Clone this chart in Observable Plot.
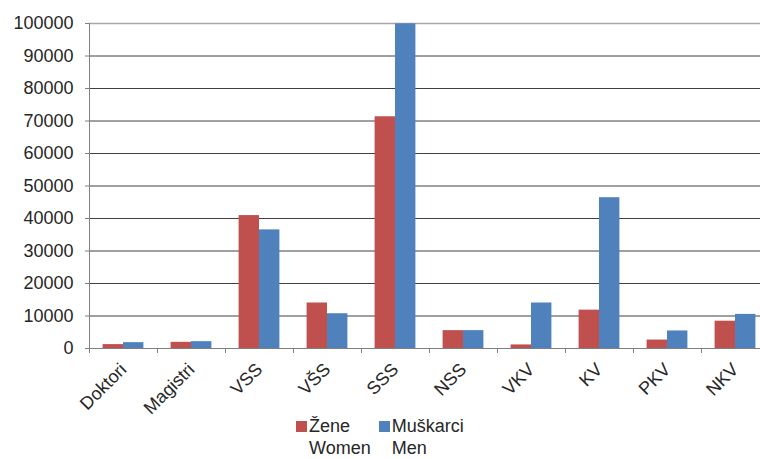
<!DOCTYPE html>
<html>
<head>
<meta charset="utf-8">
<script src="https://cdn.jsdelivr.net/npm/d3@7"></script>
<script src="https://cdn.jsdelivr.net/npm/@observablehq/plot@0.6"></script>
<style>
  html, body { margin: 0; padding: 0; background: #fff; overflow: hidden; }
  #chart svg { display: block; overflow: hidden; }
  .legend { position: relative; display: flex; margin-left: 296px; margin-top: -7px; font-family: "Liberation Sans", Arial, sans-serif; font-size: 18px; color: #262626; line-height: 22px; }
  .item { display: flex; align-items: flex-start; }
  .sw { width: 11px; height: 11px; margin-top: 6px; margin-right: 2px; }
  .item + .item { margin-left: 8px; }
</style>
</head>
<body>
<div id="chart"></div>
<div class="legend" id="legend"></div>
<script>
const categories = ["Doktori", "Magistri", "VSS", "VŠS", "SSS", "NSS", "VKV", "KV", "PKV", "NKV"];
const women = [1200, 1900, 40900, 14000, 71300, 5500, 1100, 11800, 2600, 8400];
const men = [1800, 2100, 36500, 10700, 99900, 5500, 14000, 46400, 5400, 10500];
const seriesNames = ["Žene", "Muškarci"];
const seriesNamesEn = ["Women", "Men"];
const seriesColors = ["#C0504D", "#4F81BD"];
const yTicks = [0, 10000, 20000, 30000, 40000, 50000, 60000, 70000, 80000, 90000, 100000];

const womenData = categories.map((c, i) => ({cat: c, value: women[i]}));
const menData = categories.map((c, i) => ({cat: c, value: men[i]}));

const chart = Plot.plot({
  width: 760,
  height: 422,
  marginLeft: 89,
  marginRight: -9,
  marginTop: 23,
  marginBottom: 74,
  style: {fontFamily: "'Liberation Sans', Arial, sans-serif", fontSize: "18px", color: "#262626", background: "#fff"},
  x: {domain: categories, padding: 0, label: null},
  y: {domain: [0, 100000], label: null},
  marks: [
    Plot.ruleY(yTicks.filter(d => d > 0 && d < 100000), {stroke: "#404040", strokeWidth: 1}),
    Plot.ruleY([100000], {stroke: "#a6a6a6", strokeWidth: 1.5}),
    Plot.barY(womenData, {x: "cat", y: "value", fill: seriesColors[0], insetLeft: 13.6, insetRight: 34}),
    Plot.barY(menData, {x: "cat", y: "value", fill: seriesColors[1], insetLeft: 34, insetRight: 13.6}),
    Plot.ruleY([0], {stroke: "#7f7f7f"}),
    Plot.ruleX([categories[0]], {dx: -34, stroke: "#7f7f7f"}),
    Plot.axisY({ticks: yTicks, tickSize: 4, tickPadding: 12, stroke: "#7f7f7f", tickFormat: d => String(d), fill: "#262626"}),
    Plot.axisX({tickSize: 5, dx: -34, stroke: "#7f7f7f", tickFormat: () => ""}),
    Plot.axisX({tickSize: 0, tickRotate: -45, tickPadding: 18, dx: 0, fill: "#262626"})
  ]
});
document.getElementById("chart").appendChild(chart);

const legend = document.getElementById("legend");
seriesNames.forEach((name, i) => {
  const item = document.createElement("div");
  item.className = "item";
  const sw = document.createElement("div");
  sw.className = "sw";
  sw.style.background = seriesColors[i];
  const label = document.createElement("div");
  label.innerHTML = name + "<br>" + seriesNamesEn[i];
  item.appendChild(sw);
  item.appendChild(label);
  legend.appendChild(item);
});
</script>
</body>
</html>
